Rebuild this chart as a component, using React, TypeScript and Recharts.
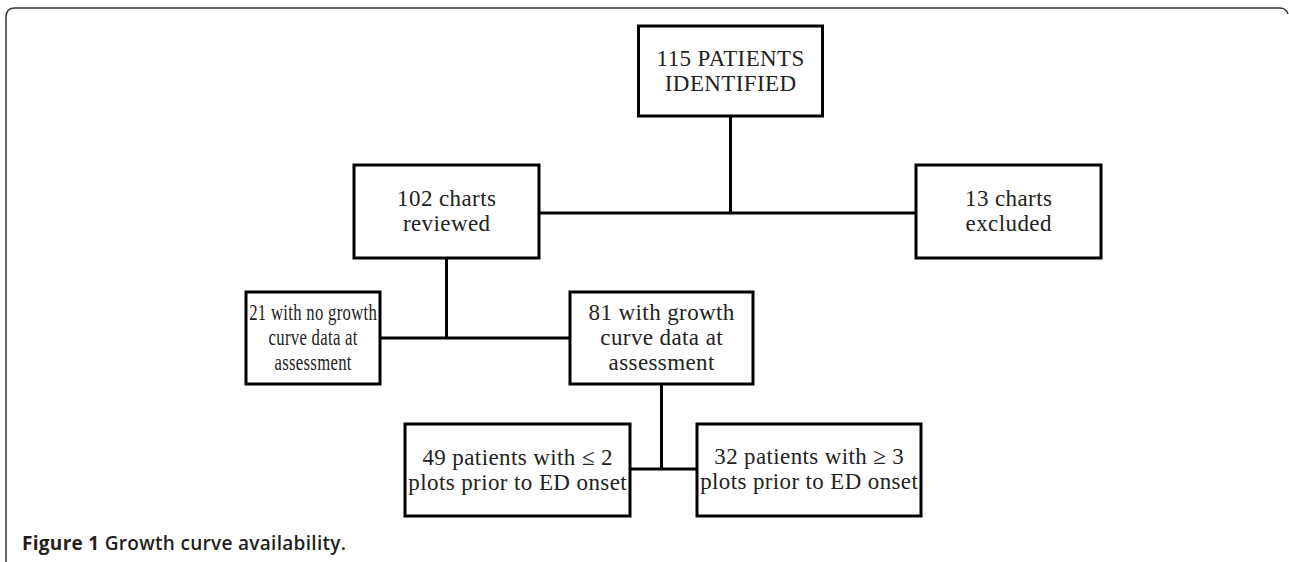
import React from 'react';
import {
  ScatterChart,
  Scatter,
  XAxis,
  YAxis,
  ReferenceLine,
  Customized,
} from 'recharts';

// flowchart nodes: label lines + centre / extent in page units
const nodeLabels: string[][] = [
  ['115 PATIENTS', 'IDENTIFIED'],
  ['102 charts', 'reviewed'],
  ['13 charts', 'excluded'],
  ['21 with no growth', 'curve data at', 'assessment'],
  ['81 with growth', 'curve data at', 'assessment'],
  ['49 patients with \u2264 2', 'plots prior to ED onset'],
  ['32 patients with \u2265 3', 'plots prior to ED onset'],
];
const nodeX = [730.5, 446.5, 1008.5, 313, 661.5, 517.5, 809];
const nodeY = [71, 211.5, 211.5, 338, 338, 470, 470];
const nodeW = [184, 185, 185, 134, 183, 225, 224];
const nodeH = [90, 93, 93, 92, 92, 92, 92];

// connector segments [x1, y1, x2, y2]
const connectors = [
  [730.5, 116, 730.5, 213],
  [539, 213, 916, 213],
  [446.5, 258, 446.5, 338],
  [380, 338, 570, 338],
  [661.5, 384, 661.5, 469],
  [630, 469, 697, 469],
];

const captionBold = 'Figure 1';
const captionText = ' Growth curve availability.';

const W = 1289;
const H = 562;
const FONT = "'Liberation Serif', 'Times New Roman', serif";
const FS = 23;
const LS = 0.4;

let ctx: CanvasRenderingContext2D | null = null;
const measure = (t: string) => {
  if (!ctx) ctx = document.createElement('canvas').getContext('2d');
  if (!ctx) return t.length * FS * 0.45;
  ctx.font = `${FS}px 'Liberation Serif'`;
  return ctx.measureText(t).width + t.length * LS;
};

const nodes = nodeLabels.map((lines, i) => ({
  x: nodeX[i],
  y: nodeY[i],
  w: nodeW[i],
  h: nodeH[i],
  lines,
}));

const BoxShape = (props: any) => {
  const { cx, cy, payload } = props;
  const n = payload.lines.length;
  const widest = Math.max(...payload.lines.map((t: string) => measure(t)));
  const k = Math.min(1, (payload.w - 6) / widest);
  return (
    <g>
      <rect
        x={cx - payload.w / 2}
        y={cy - payload.h / 2}
        width={payload.w}
        height={payload.h}
        fill="#fff"
        stroke="#000"
        strokeWidth={3}
      />
      <g transform={`translate(${cx} 0) scale(${k} 1) translate(${-cx} 0)`}>
        {payload.lines.map((t: string, i: number) => (
          <text
            key={i}
            x={cx + LS / 2}
            y={cy + (i - (n - 1) / 2) * 25 + 7}
            textAnchor="middle"
            fontFamily={FONT}
            fontSize={FS}
            letterSpacing={LS}
            fill="#222"
          >
            {t}
          </text>
        ))}
      </g>
    </g>
  );
};

const Frame = () => (
  <g>
    <line x1={6} y1={17} x2={6} y2={562} stroke="#333" strokeWidth={1.5} />
    <path
      d="M 6 17 Q 6 8 15 8 L 1280 8 Q 1286 8 1288 14"
      fill="none"
      stroke="#333"
      strokeWidth={1.5}
    />
    <text
      x={22}
      y={550}
      fontFamily="'Open Sans', 'Noto Sans', sans-serif"
      fontSize={19}
      fontWeight={600}
      letterSpacing={0.3}
      fill="#231f20"
    >
      <tspan fontWeight={700}>{captionBold}</tspan>
      <tspan>{captionText}</tspan>
    </text>
  </g>
);

const App: React.FC = () => {
  return (
    <div style={{ position: 'absolute', left: 0, top: 0, width: W, height: H, background: '#fff' }}>
      <ScatterChart width={W} height={H} margin={{ top: 0, right: 0, bottom: 0, left: 0 }}>
        <XAxis type="number" dataKey="x" domain={[0, W]} hide />
        <YAxis type="number" dataKey="y" domain={[0, H]} reversed hide />
        <Customized component={Frame} />
        {connectors.map((c, i) => (
          <ReferenceLine
            key={i}
            segment={[
              { x: c[0], y: c[1] },
              { x: c[2], y: c[3] },
            ]}
            stroke="#000"
            strokeWidth={3}
            ifOverflow="visible"
          />
        ))}
        <Scatter data={nodes} shape={BoxShape} isAnimationActive={false} />
      </ScatterChart>
    </div>
  );
};

export default App;
